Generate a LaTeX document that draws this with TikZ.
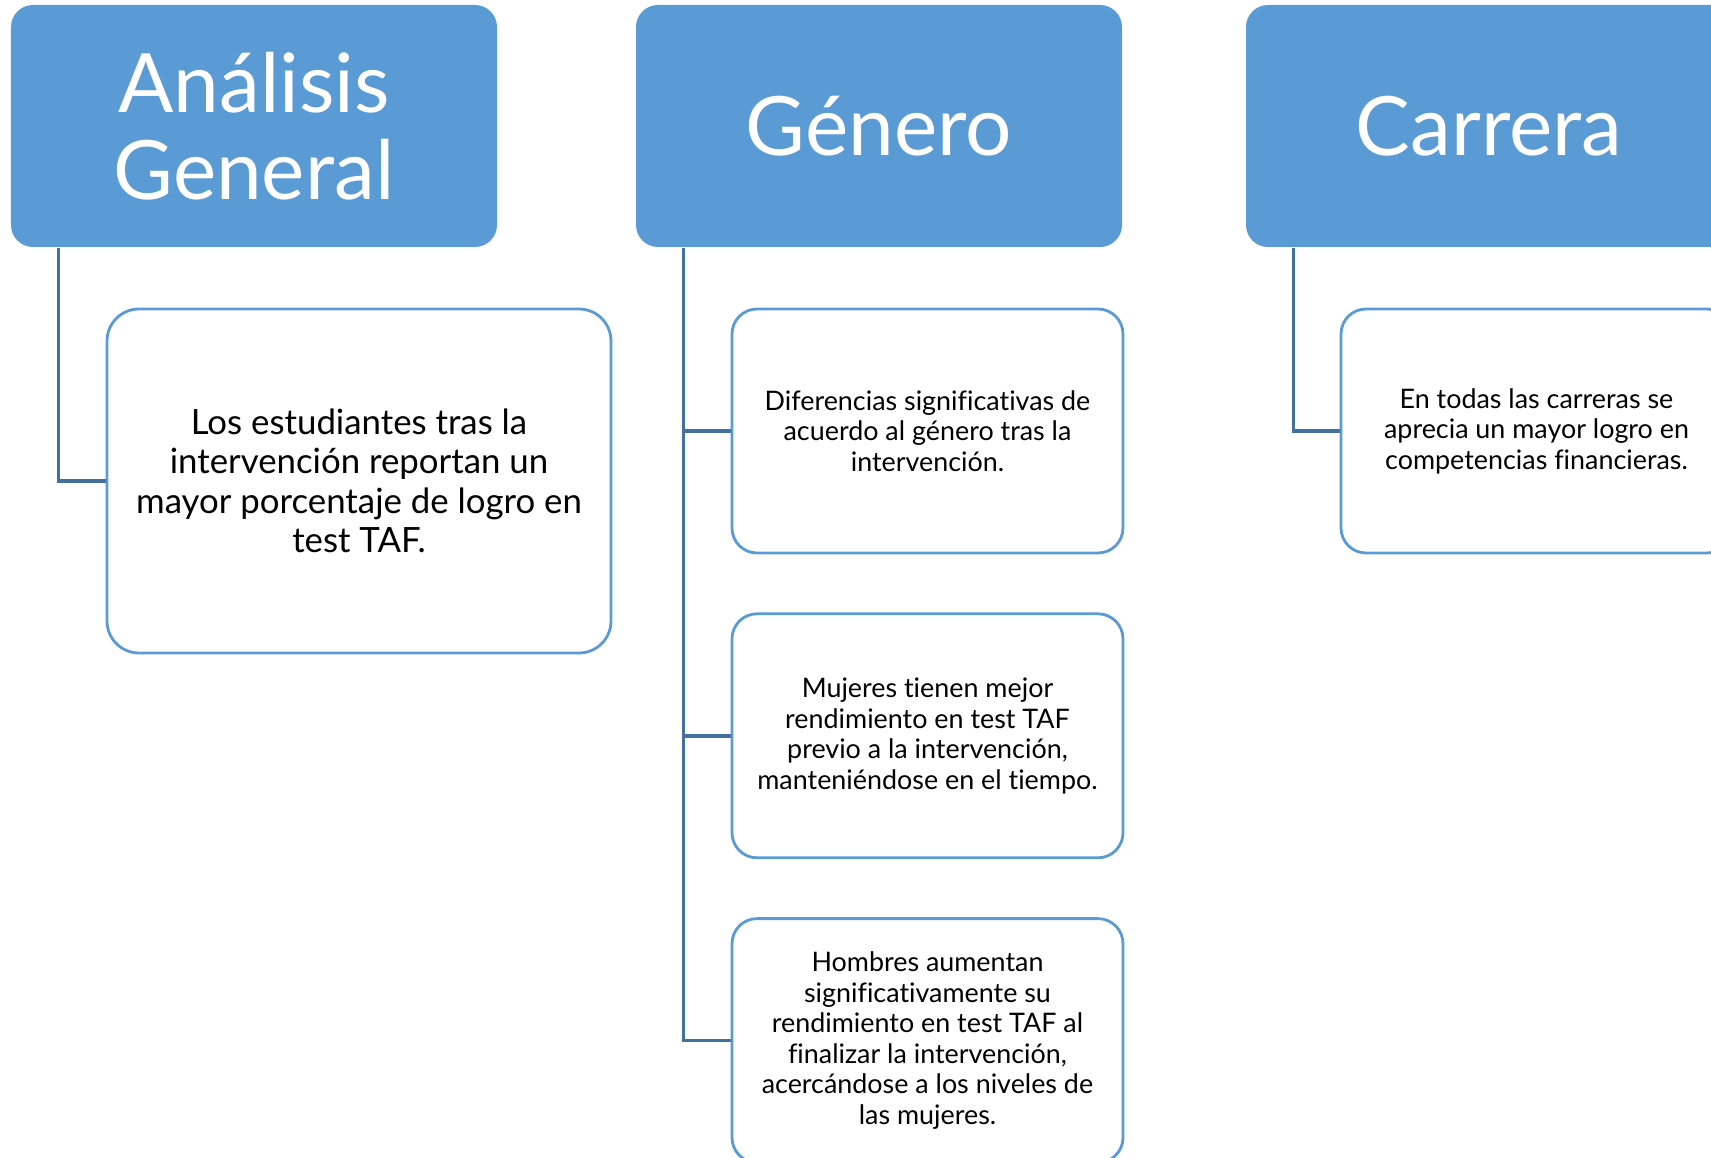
\documentclass[tikz,border=0pt]{standalone}
\usepackage{fontspec}
\setmainfont{Lato}[Ligatures=NoCommon]
\usetikzlibrary{positioning}
\definecolor{hdrblue}{HTML}{5B9BD5}
\definecolor{linkblue}{HTML}{41719C}
\tikzset{
  hdr/.style={fill=hdrblue, rounded corners=0.22cm, minimum width=4.86cm, minimum height=2.42cm,
    text=white, align=center, font=\fontsize{23.3}{24.75}\selectfont},
  item/.style={draw=hdrblue, line width=0.8pt, fill=white, rounded corners=0.25cm,
    minimum width=3.91cm, minimum height=2.44cm, align=center, font=\fontsize{7.65}{8.7}\selectfont},
  bigitem/.style={item, rounded corners=0.32cm, minimum width=5.04cm, minimum height=3.44cm,
    font=\fontsize{9.9}{11.2}\selectfont},
  link/.style={draw=linkblue, line width=1pt}
}
\begin{document}
\begin{tikzpicture}
	\useasboundingbox (0,0) rectangle (17.11,-11.58);
	\clip (0,0) rectangle (17.11,-11.58);
	\node[hdr] (analisis) at (2.54,-1.26) {Análisis\\General};
	\node[hdr] (genero) at (8.79,-1.26) {Género};
	\node[hdr] (carrera) at (14.89,-1.26) {Carrera};
	\node[bigitem] (logro) at (3.59,-4.81) {Los estudiantes tras la\\intervención reportan un\\mayor porcentaje de logro en\\test TAF.};
	\node[item] (difer) at (9.275,-4.31) {Diferencias significativas de\\acuerdo al género tras la\\intervención.};
	\node[item, below=0.58cm of difer] (mujeres) {Mujeres tienen mejor\\rendimiento en test TAF\\previo a la intervención,\\manteniéndose en el tiempo.};
	\node[item, below=0.58cm of mujeres] (hombres) {Hombres aumentan\\significativamente su\\rendimiento en test TAF al\\finalizar la intervención,\\acercándose a los niveles de\\las mujeres.};
	\node[item] (compet) at (15.365,-4.31) {En todas las carreras se\\aprecia un mayor logro en\\competencias financieras.};
	\coordinate (atrunk) at ([xshift=0.48cm]analisis.south west);
	\coordinate (gtrunk) at ([xshift=0.48cm]genero.south west);
	\coordinate (ctrunk) at ([xshift=0.48cm]carrera.south west);
	\draw[link] (atrunk) |- (logro.west);
	\draw[link] (gtrunk) |- (difer.west);
	\draw[link] (gtrunk) |- (mujeres.west);
	\draw[link] (gtrunk) |- (hombres.west);
	\draw[link] (ctrunk) |- (compet.west);
\end{tikzpicture}
\end{document}
